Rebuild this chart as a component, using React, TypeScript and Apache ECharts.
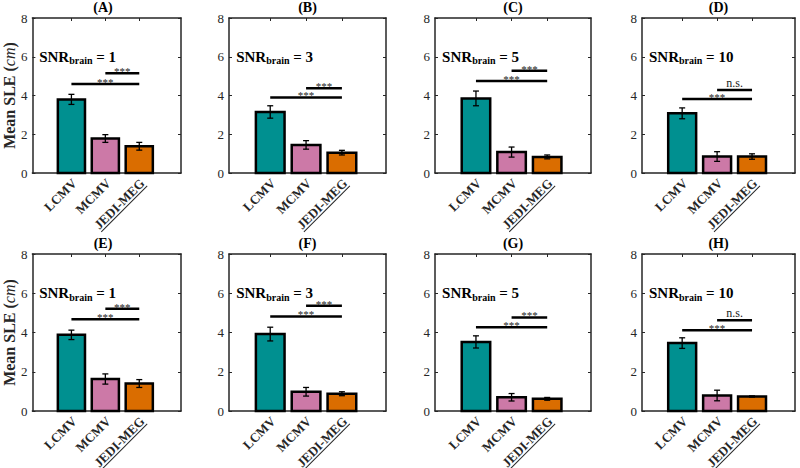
import React, { useEffect, useRef } from "react";
import * as echarts from "echarts";

const categories = ["LCMV", "MCMV", "JEDI-MEG"];
const panelLetters = ["A", "B", "C", "D", "E", "F", "G", "H"];
const snrLevels = [1, 3, 5, 10, 1, 3, 5, 10];
const lcmvMean = [3.8, 3.15, 3.85, 3.08, 3.88, 3.92, 3.52, 3.46];
const lcmvErr = [0.26, 0.32, 0.38, 0.28, 0.24, 0.35, 0.31, 0.27];
const mcmvMean = [1.78, 1.45, 1.08, 0.85, 1.63, 0.98, 0.7, 0.79];
const mcmvErr = [0.2, 0.22, 0.26, 0.25, 0.26, 0.22, 0.19, 0.27];
const jediMean = [1.38, 1.05, 0.83, 0.85, 1.4, 0.88, 0.62, 0.74];
const jediErr = [0.2, 0.12, 0.1, 0.14, 0.2, 0.1, 0.07, 0.03];
const sigUpperY = [5.15, 4.37, 5.28, 4.28, 5.21, 5.36, 4.77, 4.62];
const sigLowerY = [4.6, 3.9, 4.75, 3.82, 4.67, 4.82, 4.27, 4.12];
const sigUpperLabel = ["***", "***", "***", "n.s.", "***", "***", "***", "n.s."];
const sigLowerLabel = ["***", "***", "***", "***", "***", "***", "***", "***"];
const yTicks = [0, 2, 4, 6, 8];

const barColors = ["#009090", "#CC79A7", "#DA6D00"];
const FONT = "Liberation Serif";
const AX = "#262626";

const lefts = [25, 229, 435, 642];
const widths = [156, 157, 156, 153];
const tops = [18, 254];
const heights = [155, 157];

function measure(text: string, font: string): number {
  const c = document.createElement("canvas");
  const ctx = c.getContext("2d");
  if (!ctx) return text.length * 8;
  ctx.font = font;
  return ctx.measureText(text).width;
}

function buildOption() {
  const grid: any[] = [];
  const xAxis: any[] = [];
  const yAxis: any[] = [];
  const series: any[] = [];
  const title: any[] = [];
  const labelFont = `bold 13px ${FONT}`;
  const underlineW = measure(categories[2], labelFont);

  for (let p = 0; p < 8; p++) {
    const row = p >> 2;
    const col = p % 4;
    const left = lefts[col];
    const top = tops[row];
    const w = widths[col];
    const h = heights[row];
    grid.push({ left, top, width: w, height: h, containLabel: false });
    title.push({
      text: `(${panelLetters[p]})`,
      left: left + w / 2,
      top: row === 0 ? 0 : 236,
      textAlign: "center",
      padding: 0,
      textStyle: { fontFamily: FONT, fontSize: 14, fontWeight: "bold", color: "#000" },
    });
    const lineStyle = { color: AX, width: 1.5 };
    const xBase = {
      gridIndex: p,
      type: "value",
      min: -0.15,
      max: 4.23,
      axisLine: { show: true, onZero: false, lineStyle },
      axisTick: { show: true, inside: true, length: 3, customValues: [1, 2, 3], lineStyle: { color: AX, width: 1 } },
      axisLabel: { show: false },
      splitLine: { show: false },
    };
    xAxis.push({ ...xBase, position: "bottom" });
    xAxis.push({ ...xBase, position: "top" });
    const yBase: any = {
      gridIndex: p,
      type: "value",
      min: 0,
      max: 8,
      interval: 2,
      axisLine: { show: true, onZero: false, lineStyle },
      axisTick: { show: true, inside: true, length: 3, customValues: yTicks, lineStyle: { color: AX, width: 1 } },
      splitLine: { show: false },
    };
    yAxis.push({
      ...yBase,
      position: "left",
      axisLabel: { show: true, color: AX, fontFamily: FONT, fontSize: 13, margin: 5, customValues: yTicks },
      ...(col === 0
        ? {
            name: "{a|Mean SLE (}{b|cm}{a|)}",
            nameLocation: "middle",
            nameGap: 10,
            nameRotate: 90,
            nameTextStyle: {
              rich: {
                a: { fontFamily: FONT, fontSize: 16, fontWeight: "bold", color: AX },
                b: { fontFamily: FONT, fontSize: 16, fontStyle: "italic", color: AX },
              },
            },
          }
        : {}),
    });
    yAxis.push({ ...yBase, position: "right", axisLabel: { show: false } });

    const xi = 2 * p;
    const yi = 2 * p;
    series.push({
      type: "custom",
      xAxisIndex: xi,
      yAxisIndex: yi,
      clip: false,
      encode: { x: 0, y: 1 },
      data: [
        [1, lcmvMean[p], lcmvErr[p], 0],
        [2, mcmvMean[p], mcmvErr[p], 1],
        [3, jediMean[p], jediErr[p], 2],
      ],
      renderItem: (params: any, api: any) => {
        const x = api.value(0);
        const v = api.value(1);
        const e = api.value(2);
        const idx = api.value(3);
        const tl = api.coord([x - 0.4, v]);
        const br = api.coord([x + 0.4, 0]);
        const et = api.coord([x, v + e]);
        const eb = api.coord([x, v - e]);
        const base = api.coord([x, 0]);
        const cap = 3;
        const estyle = { stroke: "#000", lineWidth: 1.3 };
        const labelChildren: any[] = [
          {
            type: "text",
            style: {
              text: categories[idx],
              x: 0,
              y: 0,
              align: "right",
              verticalAlign: "middle",
              font: labelFont,
              fill: AX,
              stroke: "none",
              lineWidth: 0,
            },
          },
        ];
        if (idx === 2) {
          labelChildren.push({
            type: "line",
            shape: { x1: -underlineW, y1: 7, x2: 0, y2: 7 },
            style: { stroke: AX, lineWidth: 1 },
          });
        }
        return {
          type: "group",
          children: [
            {
              type: "rect",
              shape: { x: tl[0], y: tl[1], width: br[0] - tl[0], height: br[1] - tl[1] },
              style: { fill: barColors[idx], stroke: "#000", lineWidth: 2.5 },
            },
            { type: "line", shape: { x1: et[0], y1: et[1], x2: eb[0], y2: eb[1] }, style: estyle },
            { type: "line", shape: { x1: et[0] - cap, y1: et[1], x2: et[0] + cap, y2: et[1] }, style: estyle },
            { type: "line", shape: { x1: eb[0] - cap, y1: eb[1], x2: eb[0] + cap, y2: eb[1] }, style: estyle },
            {
              type: "group",
              x: base[0] + 3,
              y: base[1] + 8,
              rotation: Math.PI / 4,
              children: labelChildren,
            },
          ],
        };
      },
    });

    const sigLabels = [sigUpperLabel[p], sigLowerLabel[p]];
    series.push({
      type: "custom",
      xAxisIndex: xi,
      yAxisIndex: yi,
      clip: false,
      encode: { x: [0, 1], y: 2 },
      data: [
        [2, 3, sigUpperY[p]],
        [1, 3, sigLowerY[p]],
      ],
      renderItem: (params: any, api: any) => {
        const a = api.coord([api.value(0), api.value(2)]);
        const b = api.coord([api.value(1), api.value(2)]);
        const lab = sigLabels[params.dataIndex];
        const isNs = lab === "n.s.";
        return {
          type: "group",
          children: [
            { type: "line", shape: { x1: a[0], y1: a[1], x2: b[0], y2: b[1] }, style: { stroke: "#000", lineWidth: 2.5 } },
            {
              type: "text",
              style: {
                text: lab,
                x: (a[0] + b[0]) / 2,
                y: isNs ? a[1] - 1 : a[1] - 2,
                align: "center",
                verticalAlign: isNs ? "bottom" : "middle",
                font: `${isNs ? 12 : 11}px ${FONT}`,
                fill: "#222",
                stroke: "none",
                lineWidth: 0,
              },
            },
          ],
        };
      },
    });

    const snr = snrLevels[p];
    series.push({
      type: "custom",
      xAxisIndex: xi,
      yAxisIndex: yi,
      clip: false,
      encode: { x: 0, y: 1 },
      data: [[0.05, 6]],
      renderItem: (params: any, api: any) => {
        const c = api.coord([api.value(0), api.value(1)]);
        return {
          type: "text",
          style: {
            text: `{a|SNR}{b|brain}{a| = ${snr}}`,
            x: c[0],
            y: c[1],
            align: "left",
            verticalAlign: "middle",
            stroke: "none",
            lineWidth: 0,
            rich: {
              a: { fontFamily: FONT, fontSize: 15, fontWeight: "bold", fill: "#000" },
              b: { fontFamily: FONT, fontSize: 10, fontWeight: "bold", fill: "#000", padding: [8, 0, 0, 0] },
            },
          },
        };
      },
    });
  }

  return {
    animation: false,
    backgroundColor: "#fff",
    title,
    grid,
    xAxis,
    yAxis,
    series,
  };
}

export default function App() {
  const ref = useRef<HTMLDivElement>(null);
  useEffect(() => {
    if (!ref.current) return;
    const chart = echarts.init(ref.current, null, { renderer: "svg" });
    chart.setOption(buildOption() as any);
    return () => chart.dispose();
  }, []);
  return <div ref={ref} style={{ width: 800, height: 468, position: "absolute", left: 0, top: 0 }} />;
}
